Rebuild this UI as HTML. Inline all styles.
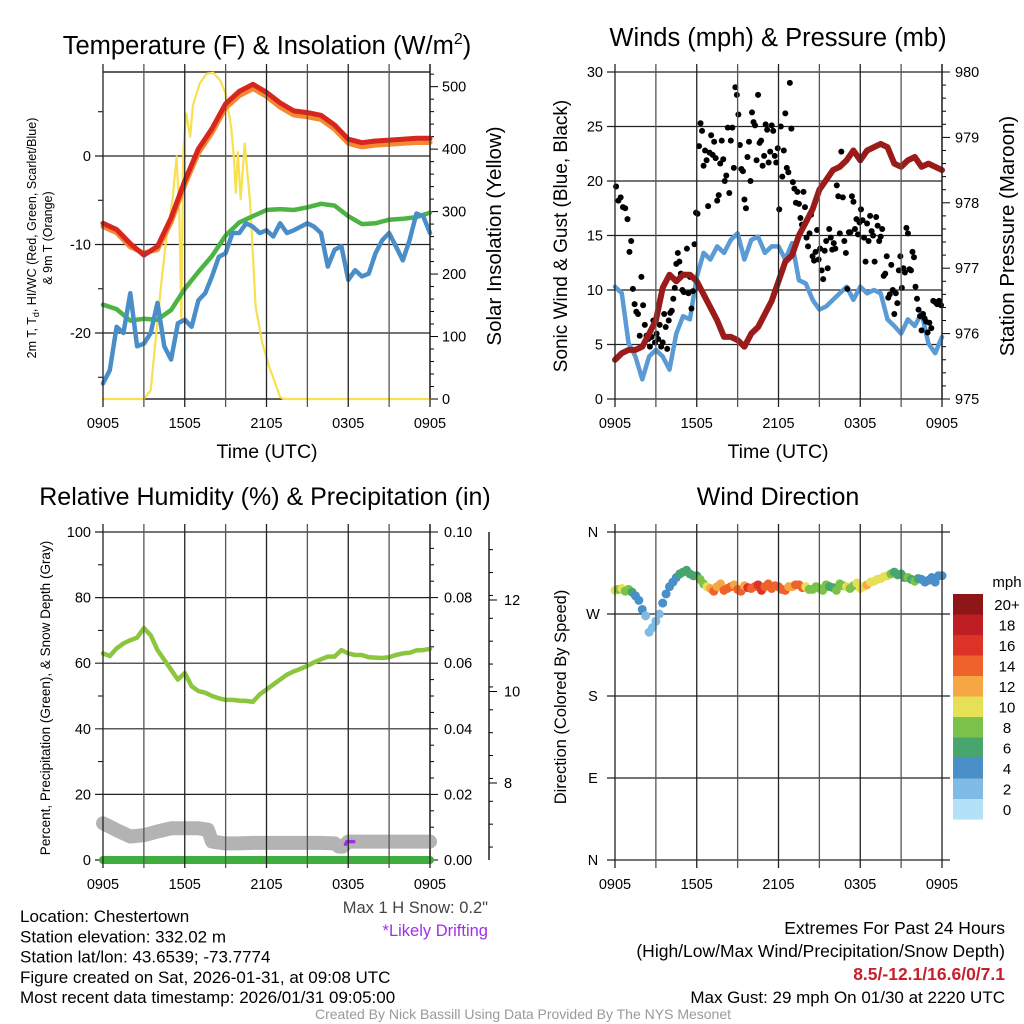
<!DOCTYPE html>
<html><head><meta charset="utf-8"><style>
html,body{margin:0;padding:0;background:#fff;}
svg{display:block;font-family:"Liberation Sans",sans-serif;}
</style></head><body>
<svg id="fig" width="1024" height="1024" viewBox="0 0 1024 1024" xmlns="http://www.w3.org/2000/svg">
<g id="layer"></g>
</svg>
<script>
// ---------- DATA ----------
const hourTicks = ["0905","1505","2105","0305","0905"];
const tempT = [-7.6,-8.3,-9.9,-11.2,-10.2,-7.0,-2.8,0.8,3.1,5.9,7.3,8.1,7.2,6.0,5.1,4.9,4.6,3.5,1.9,1.5,1.7,1.8,1.9,2.0,2.0];
const temp9m = [-7.8,-8.5,-10.1,-10.8,-10.4,-7.3,-3.1,0.5,2.8,5.6,7.0,7.8,6.9,5.7,4.8,4.6,4.3,3.2,1.6,1.2,1.4,1.5,1.6,1.7,1.7];
const tempTd = [-16.8,-17.3,-18.6,-18.4,-18.5,-17.4,-15.0,-13.1,-11.3,-9.0,-7.5,-6.8,-6.1,-6.0,-6.1,-5.8,-5.4,-5.6,-6.8,-7.7,-7.6,-7.2,-7.1,-6.9,-6.4];
const tempWC = [-25.7,-24.2,-19.3,-20.0,-15.5,-21.5,-21.2,-20.0,-16.6,-21.5,-23.0,-18.9,-18.5,-19.3,-16.3,-15.5,-13.6,-11.4,-11.0,-8.7,-8.7,-7.6,-8.0,-8.7,-8.4,-9.1,-7.6,-8.7,-8.4,-8.0,-7.6,-8.0,-8.7,-12.5,-10.6,-10.2,-14.0,-12.9,-13.6,-13.3,-11.0,-9.5,-8.7,-10.2,-11.8,-9.5,-6.5,-6.8,-8.7];
const solarHours = [0,3,3.5,4.2,4.6,5.1,5.4,5.6,5.75,5.9,6.1,6.4,6.6,7.1,7.6,8.1,8.6,9.0,9.4,9.6,9.75,9.9,10.1,10.4,10.8,11.2,11.7,12.2,13.0,13.3,24];
const solarVals = [0,0,14,169,249,319,388,300,127,400,457,420,470,505,521,522,510,489,436,388,330,395,320,409,313,148,89,52,3,0,0];
const tempTicks = [0,-10,-20];
const solarTicks = [0,100,200,300,400,500];
const windVals = [10.3,9.7,5.1,3.9,1.8,3.9,4.5,3.9,2.7,6.0,7.6,7.3,11.2,13.4,12.8,14.0,13.4,14.6,15.2,12.8,14.6,14.9,13.4,14.0,14.0,12.8,14.3,10.9,10.6,9.1,8.2,8.5,9.1,9.7,10.3,9.1,10.3,9.7,10.0,9.7,7.3,6.7,6.0,7.3,6.7,7.9,5.1,4.2,5.7];
const pressVals = [975.6,975.7,975.75,975.75,975.8,976.0,976.2,976.7,976.9,976.8,976.9,976.9,976.8,976.6,976.4,976.2,975.95,975.95,975.9,975.8,976.0,976.1,976.3,976.5,976.8,977.1,977.2,977.5,977.7,977.9,978.2,978.35,978.5,978.55,978.65,978.8,978.65,978.8,978.85,978.9,978.85,978.6,978.55,978.65,978.7,978.55,978.6,978.55,978.5];
const gustByHour = [
[19.5,18.2,18.5,17.6,17.5,16.5],
[13.5,14.5,10.1,8.7,8,7.8,5.8,11.2],
[8.6,6.8,5.8,5.5,4.8,5.7,7.2,5.2],
[6.0,5.5,6.8,4.8,5.2,7.8,6.6,4.6,7.2],
[7.9,8.1,9.2,10.2,12.4,13.4,12.6,11.5,10],
[9.8,11.4,13.8,9.7,11.2,8.3,9.9,14.2,17.1],
[17,23.2,25.3,24.6,21.4,22.8,21.9,17.7,22.6],
[24.2,22.4,23.6,22.1,18.2,18.7,21.6,23.7,22.0],
[20,20.5,24.9,18.9,23.7,24.9,21.2,28.6,27.9],
[26.1,23.3,21.1,20.9,18.3,17.5,22.2,23.6,20.0],
[26.3,25.4,25.1,21.9,27.9,23.5,23.7,21.4,22.3],
[25.2,24.7,21.7,22.7,25.1,24.6,22.3,21.7,23.0],
[17.4,25,20.4,22.8,26.2,21.2,20.8,29,24.8],
[19.9,19.3,18,19,17.9,16.6,16,19,17.6],
[14.8,14,15.2,16.9,13.1,12.7,13.5,15.5,12.8],
[13.8,11.8,11,13.6,14.5,12,15.6,14.8,13.7],
[14.3,13.8,19.6,18.6,15.2,22.7,18.5,14.5,13.4],
[10.1,15.3,15.3,18.6,18.1,15.6,16.5,15.1,16.2],
[17.4,16.4,14.8,12.6,16.1,14.5,16.8,15.4,15],
[12.6,16.7,15.9,14.5,14.9,15.6,11.3,11.5,13.1],
[9.3,9.6,12.3,10.0,7.8,9.7,8.8,11.8,13.1],
[10.2,12,11.6,15.7,15.2,11.9,11.8,13.5,13],
[10.3,9.2,8.2,7.6,6.3,7.8,7.4,7.1,6.1],
[7.0,6.5,9.0,8.9,8.7,9.0,8.6]];
const windTicks = [0,5,10,15,20,25,30];
const pressTicks = [975,976,977,978,979,980];
const rhVals = [63,62.2,64.5,66,67,67.8,70.7,68.5,64,61,58,55,57,53,51.5,51,50,49.3,48.8,48.8,48.6,48.5,48.2,50.5,52,53.5,55,56.5,57.5,58.3,59.2,60.3,61.2,62,62,64,63,62.5,62.5,61.8,61.7,61.6,61.8,62.5,63,63.2,63.9,64,64.4];
const precipVals = [0,0,0,0,0,0,0,0,0,0,0,0,0,0,0,0,0,0,0,0,0,0,0,0,0];
const snowHours = [0,1,2,3,4,5,6,7,7.7,8,9,10,11,12,13,14,15,16,17,17.3,17.6,17.8,18,19,20,21,22,23,24];
const snowVals = [7.12,6.97,6.83,6.86,6.94,7.01,7.01,7.01,6.98,6.72,6.68,6.68,6.69,6.69,6.69,6.69,6.69,6.69,6.68,6.61,6.61,6.66,6.72,6.72,6.72,6.72,6.72,6.72,6.72];
const driftHours = [17.8,17.9,18.4];
const driftVals = [6.66,6.72,6.72];
const rhTicks = [0,20,40,60,80,100];
const precipTicks = ["0.00","0.02","0.04","0.06","0.08","0.10"];
const snowTicks = [8,10,12];
const dirVals = [296,297,298,295,297,294,290,285,275,268,250,255,262,270,282,292,300,305,310,314,316,318,314,312,312,308,303,300,298,295,300,303,296,298,300,302,297,295,301,299,298,300,302,296,300,303,298,301,300,297,296,300,300,302,302,299,300,297,297,300,298,296,302,300,299,296,303,301,300,298,301,304,298,300,302,305,306,308,309,311,312,314,316,313,314,310,310,308,306,309,308,305,307,310,305,312,312];
const dirSpeeds = [10,9,10,8,9,7,5,4,4,3,2.5,2,3,3,4.5,5,5,5,5,6,6.5,7,7,6,7,8,9,11,13,14,13,12,14,15,14,13,14,15,13,16,15,14,17,16,15,14,14,15,15,14,14,13,13,14,14,15,10,9,8,9,9,8,8,7,7,8,8,9,10,9,9,10,11,10,12,11,10,11,11,10,10,9,7,7,6,7,8,7,8,6,5,4,4,5,5,4,5];
const dirLabels = ["N","W","S","E","N"];
const dirTickDeg = [360,270,180,90,0];
const legendLabels = ["20+","18","16","14","12","10","8","6","4","2","0"];
const legendColors = ["#8e1518","#be1e24","#dd3326","#f0622b","#f6a643","#e6e057","#7bc24a","#48a56e","#4a8fc8","#80bbe5","#b3e1f7"];

// ---------- HELPERS ----------
const NS="http://www.w3.org/2000/svg";
const root=document.getElementById('layer');
function el(tag,attrs,parent,txt){const e=document.createElementNS(NS,tag);for(const k in attrs)e.setAttribute(k,attrs[k]);if(txt!==undefined)e.textContent=txt;(parent||root).appendChild(e);return e;}
const PW=327;
function tx(x0,t){return x0+t*PW/24;}
function pathD(pts){return pts.map((p,i)=>(i?'L':'M')+p[0].toFixed(1)+' '+p[1].toFixed(1)).join(' ');}
function series(x0,vals,step,yf,stroke,w,name,parent){
  const pts=vals.map((v,i)=>[tx(x0,i*step),yf(v)]);
  const p=el('path',{d:pathD(pts),fill:'none',stroke:stroke,'stroke-width':w,'stroke-linejoin':'round','stroke-linecap':'round'},parent);
  
  
  return p;
}
function seriesXY(x0,hours,vals,yf,stroke,w,name,parent){
  const pts=vals.map((v,i)=>[tx(x0,hours[i]),yf(v)]);
  const p=el('path',{d:pathD(pts),fill:'none',stroke:stroke,'stroke-width':w,'stroke-linejoin':'round','stroke-linecap':'round'},parent);
  
  
  return p;
}
function text(x,y,s,size,anchor,name,extra,parent){
  const t=el('text',Object.assign({x:x,y:y,'font-size':size,'text-anchor':anchor||'middle',fill:'#000'},extra||{}),parent,s);
  
  
  return t;
}
function grid(x0,top,bot,name){
  const g=el('g',{});
  
  
  for(let i=0;i<=8;i++){
    const x=tx(x0,i*3);
    el('line',{x1:x,x2:x,y1:top-8,y2:bot+8,stroke:i%2?'#555':'#222','stroke-width':1.3},g);
  }
  hourTicks.forEach((s,i)=>text(tx(x0,i*6),bot+29,s,14.5,'middle','x-tick-label',{},g));
  return g;
}

// ---------- PANEL 1: Temperature ----------
(function(){
  const X0=103,TOP=72,BOT=399;
  const yT=v=>156-v*8.85, yS=w=>399-w*0.6247;
  const g=el('g',{});
  grid(X0,TOP,BOT,'temperature-grid');
  el('line',{x1:X0,x2:X0+PW,y1:TOP,y2:TOP,stroke:'#000','stroke-width':1.3},g);
  el('line',{x1:X0,x2:X0+PW,y1:BOT,y2:BOT,stroke:'#000','stroke-width':1.3},g);
  tempTicks.forEach(v=>{el('line',{x1:X0-8,x2:X0+PW,y1:yT(v),y2:yT(v),stroke:'#222','stroke-width':1.2},g);text(X0-12,yT(v)+5,String(v),14.5,'end','left-y-tick-label',{},g);});
  [5,-5,-15,-25].forEach(v=>el('line',{x1:X0-5,x2:X0,y1:yT(v),y2:yT(v),stroke:'#000'},g));
  el('line',{x1:X0+PW,x2:X0+PW,y1:TOP-8,y2:BOT,stroke:'#000','stroke-width':1.3},g);
  for(let w=0;w<=520;w+=20){el('line',{x1:X0+PW,x2:X0+PW+(w%100?4:8),y1:yS(w),y2:yS(w),stroke:'#000'},g);}
  solarTicks.forEach(w=>text(X0+PW+12,yS(w)+5,String(w),14.5,'start','right-y-tick-label',{},g));
  seriesXY(X0,solarHours,solarVals,yS,'#f8e04e',2.2,'solar-insolation-line',g);
  series(X0,temp9m,1,v=>yT(v)+1.5,'#f4892f',5,'9m-temp-line',g);
  series(X0,tempT,1,yT,'#d7261e',5,'2m-temp-line',g);
  series(X0,tempTd,1,yT,'#4bb442',4.5,'dewpoint-line',g);
  series(X0,tempWC,0.5,yT,'#4a8ec9',4.5,'wind-chill-line',g);
  text(267,54,'',25.5,'middle','temperature-title',{},g).innerHTML='Temperature (F) &amp; Insolation (W/m<tspan font-size="16" dy="-10">2</tspan><tspan dy="10">)</tspan>';
  text(267,458,'Time (UTC)',19.5,'middle','x-axis-title',{},g);
  text(0,0,'',12.5,'middle','left-y-axis-title',{transform:'translate(36,238) rotate(-90)'},g).innerHTML='2m T, T<tspan font-size="9" dy="3">d</tspan><tspan dy="-3">, HI/WC (Red, Green, Scarlet/Blue)</tspan>';
  text(0,0,'& 9m T (Orange)',12.5,'middle','left-y-axis-title-2',{transform:'translate(52,238) rotate(-90)'},g);
  text(0,0,'Solar Insolation (Yellow)',20.5,'middle','right-y-axis-title',{transform:'translate(501,236) rotate(-90)'},g);
})();

// ---------- PANEL 2: Winds ----------
(function(){
  const X0=615,TOP=72,BOT=399;
  const yW=v=>399-v*10.9, yP=p=>399-(p-975)*65.4;
  const g=el('g',{});
  grid(X0,TOP,BOT,'wind-grid');
  windTicks.forEach(v=>{el('line',{x1:X0-8,x2:X0+PW,y1:yW(v),y2:yW(v),stroke:'#222','stroke-width':1.2},g);text(X0-12,yW(v)+5,String(v),14.5,'end','left-y-tick-label',{},g);});
  el('line',{x1:X0+PW,x2:X0+PW,y1:TOP-8,y2:BOT,stroke:'#000','stroke-width':1.3},g);
  for(let k=0;k<=25;k++){const p=975+k*0.2;el('line',{x1:X0+PW,x2:X0+PW+(k%5?4:8),y1:yP(p),y2:yP(p),stroke:'#000'},g);}
  pressTicks.forEach(p=>text(X0+PW+13,yP(p)+5,String(p),14.5,'start','right-y-tick-label',{},g));
  series(X0,windVals,0.5,yW,'#5a9bd5',4.5,'sonic-wind-line',g);
  const dots=el('g',{},g);
  gustByHour.forEach((arr,h)=>arr.forEach((v,i)=>{
    const c=el('circle',{cx:tx(X0,h+(i+0.5)/arr.length),cy:yW(v),r:3,fill:'#000'},dots);
    
    
  }));
  series(X0,pressVals,0.5,yP,'#9b1b1b',6,'pressure-line',g);
  text(778,46,'Winds (mph) & Pressure (mb)',25.5,'middle','wind-title',{},g);
  text(778,458,'Time (UTC)',19.5,'middle','x-axis-title',{},g);
  text(0,0,'Sonic Wind & Gust (Blue, Black)',19,'middle','left-y-axis-title',{transform:'translate(567,236) rotate(-90)'},g);
  text(0,0,'Station Pressure (Maroon)',20.5,'middle','right-y-axis-title',{transform:'translate(1014,236) rotate(-90)'},g);
})();

// ---------- PANEL 3: RH ----------
(function(){
  const X0=103,TOP=532,BOT=860;
  const yR=v=>860-v*3.28, yPr=v=>860-v*3280, ySn=d=>783-(d-8)*45.75;
  const g=el('g',{});
  grid(X0,TOP,BOT,'humidity-grid');
  rhTicks.forEach(v=>{el('line',{x1:X0-8,x2:X0+PW,y1:yR(v),y2:yR(v),stroke:'#222','stroke-width':1.2},g);text(X0-12,yR(v)+5,String(v),14.5,'end','left-y-tick-label',{},g);});
  [10,30,50,70,90].forEach(v=>el('line',{x1:X0-5,x2:X0,y1:yR(v),y2:yR(v),stroke:'#000'},g));
  el('line',{x1:X0+PW,x2:X0+PW,y1:TOP-8,y2:BOT,stroke:'#000','stroke-width':1.3},g);
  for(let k=0;k<=20;k++){el('line',{x1:X0+PW,x2:X0+PW+(k%4?4:8),y1:yR(k*5),y2:yR(k*5),stroke:'#000'},g);}
  precipTicks.forEach(s=>text(X0+PW+14,yPr(parseFloat(s))+5,s,14.5,'start','precip-tick-label',{},g));
  el('line',{x1:489,x2:489,y1:TOP,y2:BOT,stroke:'#000','stroke-width':1.3},g);
  for(let d=6.6;d<=13.2;d+=0.5){el('line',{x1:489,x2:493,y1:ySn(d),y2:ySn(d),stroke:'#000'},g);}
  snowTicks.forEach(d=>{el('line',{x1:489,x2:497,y1:ySn(d),y2:ySn(d),stroke:'#000'},g);text(504,ySn(d)+5,String(d),14.5,'start','snow-tick-label',{},g);});
  seriesXY(X0,snowHours,snowVals,ySn,'#b3b3b3',14,'snow-depth-line',g);
  series(X0,precipVals,1,yPr,'#3fae3f',8,'precip-line',g);
  series(X0,rhVals,0.5,yR,'#8cc63f',4.5,'rh-line',g);
  seriesXY(X0,driftHours,driftVals,ySn,'#a030e8',3.5,'drift-marker',g);
  text(265,505,'Relative Humidity (%) & Precipitation (in)',25,'middle','humidity-title',{},g);
  text(0,0,'Percent, Precipitation (Green), & Snow Depth (Gray)',13.5,'middle','left-y-axis-title',{transform:'translate(50,698) rotate(-90)'},g);
})();

// ---------- PANEL 4: Wind direction ----------
(function(){
  const X0=615,TOP=532,BOT=860;
  const yD=d=>860-d*0.9111;
  const g=el('g',{});
  grid(X0,TOP,BOT,'direction-grid');
  dirTickDeg.forEach((d,i)=>{el('line',{x1:X0-8,x2:X0+PW+8,y1:yD(d),y2:yD(d),stroke:'#222','stroke-width':1.2},g);text(X0-22,yD(d)+5,dirLabels[i],14.5,'middle','direction-tick-label',{},g);});
  function colorFor(v){let b=Math.floor(v/2);if(b>10)b=10;if(b<0)b=0;return legendColors[10-b];}
  const step=24/(dirVals.length-1);
  dirVals.forEach((d,i)=>{
    const c=el('circle',{cx:tx(X0,i*step),cy:yD(d),r:4.5,fill:colorFor(dirSpeeds[i])},g);
    
    
  });
  const lg=el('g',{},g);
  legendColors.forEach((c,i)=>{
    const r=el('rect',{x:953,y:594+i*20.5,width:30,height:20.6,fill:c},lg);
    
    
    text(1007,594+i*20.5+16,legendLabels[i],15,'middle','legend-label',{},lg);
  });
  text(1007,587,'mph',15,'middle','legend-title',{},lg);
  text(778,505,'Wind Direction',25,'middle','direction-title',{},g);
  text(0,0,'Direction (Colored By Speed)',16.5,'middle','left-y-axis-title',{transform:'translate(566,697) rotate(-90)'},g);
})();

// ---------- FOOTER TEXT ----------
(function(){
  const g=el('g',{});
  const lines=['Location: Chestertown','Station elevation: 332.02 m','Station lat/lon: 43.6539; -73.7774','Figure created on Sat, 2026-01-31, at 09:08 UTC','Most recent data timestamp: 2026/01/31 09:05:00'];
  lines.forEach((s,i)=>text(20,922+i*20.3,s,17,'start','station-info-line',{},g));
  text(488,913,'Max 1 H Snow: 0.2"',16.5,'end','max-snow-text',{fill:'#444'},g);
  text(488,936,'*Likely Drifting',16.5,'end','drifting-note',{fill:'#a030e8'},g);
  text(1005,934,'Extremes For Past 24 Hours',17.5,'end','extremes-title',{},g);
  text(1005,957,'(High/Low/Max Wind/Precipitation/Snow Depth)',17.5,'end','extremes-subtitle',{},g);
  text(1005,980,'8.5/-12.1/16.6/0/7.1',17.5,'end','extremes-values',{fill:'#c8202a','font-weight':'bold'},g);
  text(1005,1003,'Max Gust: 29 mph On 01/30 at 2220 UTC',17,'end','max-gust-text',{},g);
  text(523,1019,'Created By Nick Bassill Using Data Provided By The NYS Mesonet',14,'middle','credit-text',{fill:'#999'},g);
})();
</script>
</body></html>
